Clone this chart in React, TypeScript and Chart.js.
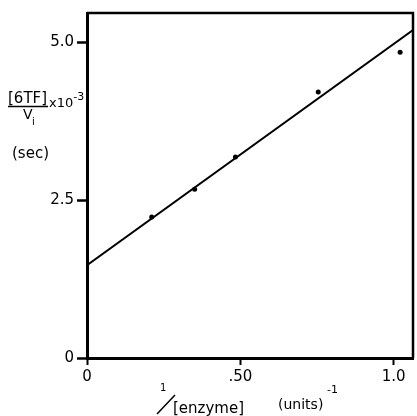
import React, { useEffect, useRef } from "react";
import { Chart, registerables } from "chart.js";

Chart.register(...registerables);

// Measured points: 1/[enzyme] (units^-1) vs [6TF]/Vi x10^-3 (sec)
const pointX = [0.211, 0.351, 0.484, 0.754, 1.021];
const pointY = [2.23, 2.67, 3.18, 4.21, 4.84];
// Fitted line end points
const lineX = [0, 1.063];
const lineY = [1.47, 5.19];
// Ticks
const xTickValues = [0, 0.5, 1.0];
const xTickLabels = ["0", ".50", "1.0"];
const yTickValues = [0, 2.5, 5.0];
const yTickLabels = ["0", "2.5", "5.0"];

const FONT = "'DejaVu Sans', sans-serif";

const annotations = {
  id: "annotations",
  afterDraw(chart: any) {
    const ctx = chart.ctx;
    const a = chart.chartArea;
    ctx.save();
    // frame top/right
    ctx.strokeStyle = "#000";
    ctx.lineWidth = 2.5;
    ctx.beginPath();
    ctx.moveTo(a.left, a.top);
    ctx.lineTo(a.right, a.top);
    ctx.lineTo(a.right, a.bottom);
    ctx.stroke();

    ctx.fillStyle = "#000";
    ctx.textBaseline = "alphabetic";
    ctx.textAlign = "left";
    // Y title
    ctx.font = `15px ${FONT}`;
    ctx.fillText("[6TF]", 8, 103);
    ctx.lineWidth = 1.5;
    ctx.beginPath();
    ctx.moveTo(8, 106.5);
    ctx.lineTo(48, 106.5);
    ctx.stroke();
    ctx.font = `14px ${FONT}`;
    ctx.fillText("V", 23, 119);
    ctx.font = `10px ${FONT}`;
    ctx.fillText("i", 32, 125);
    ctx.font = `13px ${FONT}`;
    ctx.fillText("x10", 49, 107);
    const w = ctx.measureText("x10").width;
    ctx.font = `11px ${FONT}`;
    ctx.fillText("-3", 49 + w, 100);
    ctx.font = `15px ${FONT}`;
    ctx.fillText("(sec)", 12, 158);

    // X title
    ctx.font = `10px ${FONT}`;
    ctx.fillText("1", 160, 391);
    ctx.lineWidth = 1.5;
    ctx.beginPath();
    ctx.moveTo(157, 414);
    ctx.lineTo(175, 395);
    ctx.stroke();
    ctx.font = `15px ${FONT}`;
    ctx.fillText("[enzyme]", 173, 413);
    ctx.font = `14px ${FONT}`;
    ctx.fillText("(units)", 278, 409);
    ctx.font = `11px ${FONT}`;
    ctx.fillText("-1", 327, 393);
    ctx.restore();
  },
};

export default function App() {
  const ref = useRef<HTMLCanvasElement>(null);
  useEffect(() => {
    if (!ref.current) return;
    const chart = new Chart(ref.current, {
      type: "scatter",
      data: {
        datasets: [
          {
            type: "line",
            data: lineX.map((x, i) => ({ x, y: lineY[i] })),
            borderColor: "#000",
            borderWidth: 2,
            pointRadius: 0,
            fill: false,
          },
          {
            data: pointX.map((x, i) => ({ x, y: pointY[i] })),
            backgroundColor: "#000",
            borderColor: "#000",
            pointRadius: 2.5,
            borderWidth: 0,
          },
        ],
      } as any,
      options: {
        animation: false,
        responsive: false,
        events: [],
        layout: { padding: { top: 13, right: 3, left: 0, bottom: 0 } },
        plugins: { legend: { display: false }, tooltip: { enabled: false } },
        scales: {
          x: {
            type: "linear",
            min: 0,
            max: 1.063,
            afterBuildTicks: (s: any) => {
              s.ticks = xTickValues.map((v) => ({ value: v }));
            },
            afterFit: (s: any) => {
              s.height = 58;
            },
            ticks: {
              color: "#000",
              font: { family: FONT, size: 15 },
              padding: 3,
              maxRotation: 0,
              callback: (v: any) => {
                const i = xTickValues.indexOf(Number(v));
                return i >= 0 ? xTickLabels[i] : "";
              },
            },
            grid: {
              drawOnChartArea: false,
              tickLength: 7,
              tickWidth: 2,
              tickColor: "#000",
            },
            border: { color: "#000", width: 3 },
          },
          y: {
            type: "linear",
            min: 0,
            max: 5.46,
            afterBuildTicks: (s: any) => {
              s.ticks = yTickValues.map((v) => ({ value: v }));
            },
            afterFit: (s: any) => {
              s.width = 87;
            },
            ticks: {
              color: "#000",
              font: { family: FONT, size: 15 },
              padding: 3,
              callback: (v: any) => {
                const i = yTickValues.indexOf(Number(v));
                return i >= 0 ? yTickLabels[i] : "";
              },
            },
            grid: {
              drawOnChartArea: false,
              tickLength: 10,
              tickWidth: 2.5,
              tickColor: "#000",
            },
            border: { color: "#000", width: 3 },
          },
        },
      },
      plugins: [annotations],
    });
    return () => chart.destroy();
  }, []);
  return (
    <div style={{ position: "fixed", left: 0, top: 0, width: 417, height: 416, background: "#fff" }}>
      <canvas ref={ref} width={417} height={416} style={{ width: 417, height: 416, display: "block" }} />
    </div>
  );
}
